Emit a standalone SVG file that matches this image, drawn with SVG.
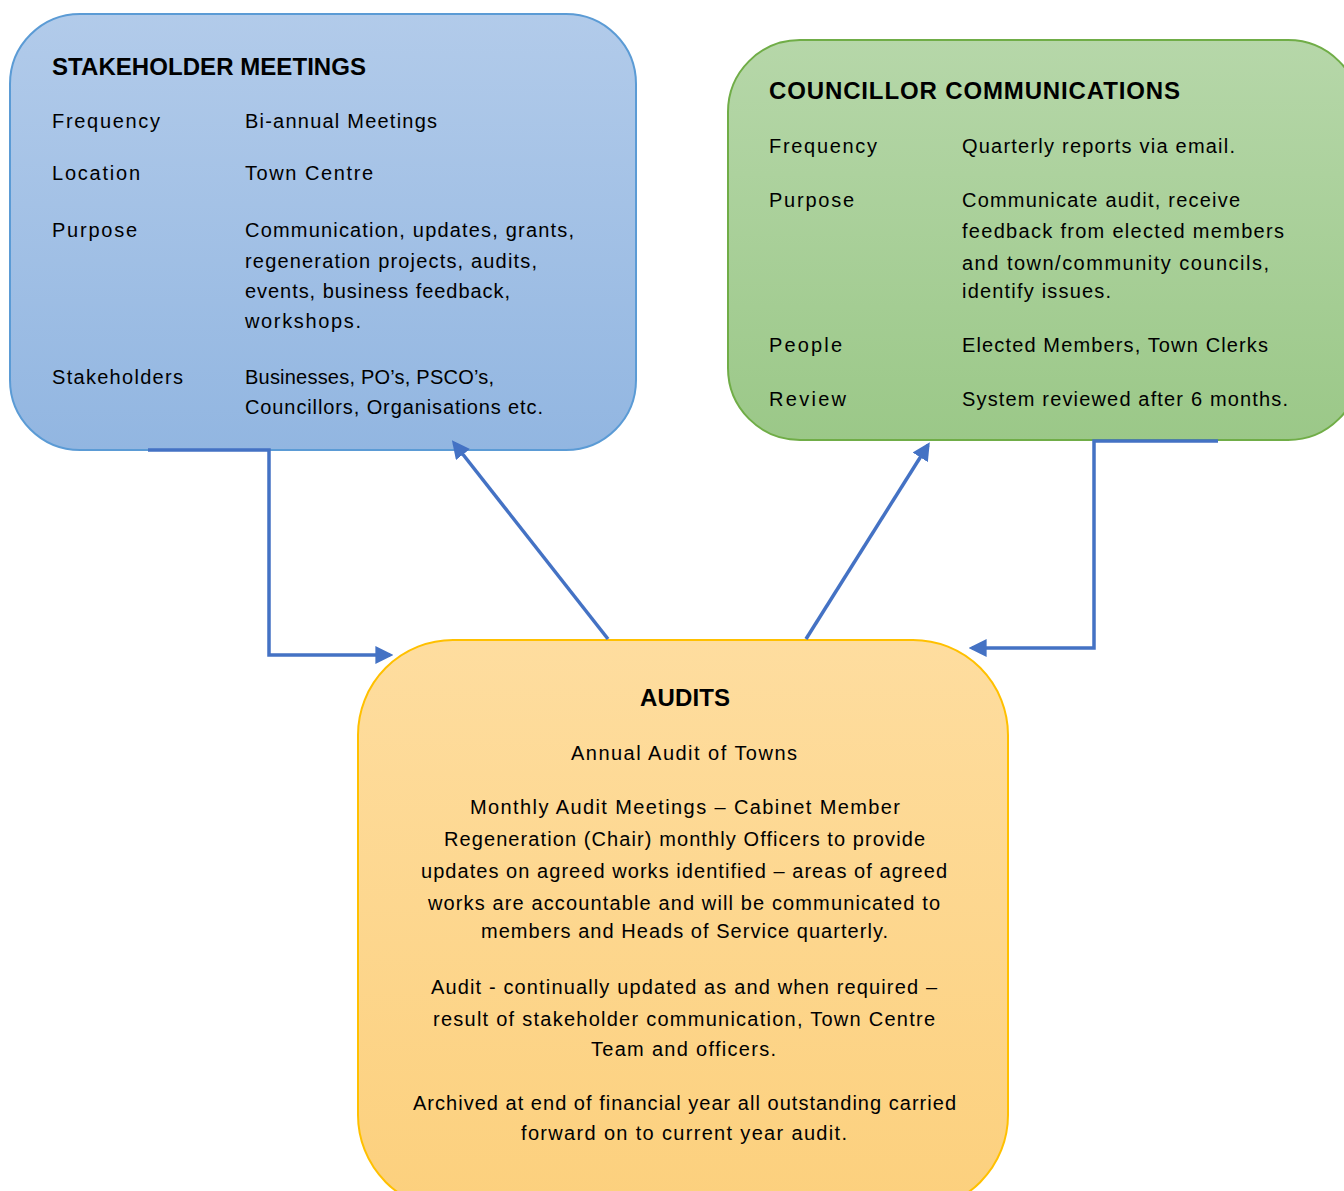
<svg xmlns="http://www.w3.org/2000/svg" width="1344" height="1191" viewBox="0 0 1344 1191">
<style>
.t{font-family:"Liberation Sans",Arial,sans-serif;font-size:20px;fill:#000}
.h{font-family:"Liberation Sans",Arial,sans-serif;font-size:24px;font-weight:bold;fill:#000}
.c{fill:none;stroke:#4472c4;stroke-width:3.5;marker-end:url(#ah)}
</style>
<defs>
<linearGradient id="gb" x1="0" y1="0" x2="0" y2="1"><stop offset="0" stop-color="#b2cbea"/><stop offset="1" stop-color="#92b6e1"/></linearGradient>
<linearGradient id="gg" x1="0" y1="0" x2="0" y2="1"><stop offset="0" stop-color="#b6d7a9"/><stop offset="1" stop-color="#9bc888"/></linearGradient>
<linearGradient id="gy" x1="0" y1="0" x2="0" y2="1"><stop offset="0" stop-color="#fedd9f"/><stop offset="1" stop-color="#fcd07d"/></linearGradient>
<marker id="ah" markerUnits="userSpaceOnUse" markerWidth="18" markerHeight="18" viewBox="0 0 16 16" refX="13" refY="8" orient="auto"><path d="M0,0 L16,8 L0,16 z" fill="#4472c4"/></marker>
</defs>
<g id="stakeholder-meetings">
<rect x="10" y="14" width="626" height="436" rx="70" ry="70" fill="url(#gb)" stroke="#5b9bd5" stroke-width="2"/>
<text class="h" x="52" y="75" textLength="314">STAKEHOLDER MEETINGS</text>
<text class="t" x="52" y="128" textLength="108">Frequency</text>
<text class="t" x="245" y="128" textLength="192">Bi-annual Meetings</text>
<text class="t" x="52" y="180" textLength="88">Location</text>
<text class="t" x="245" y="180" textLength="128">Town Centre</text>
<text class="t" x="52" y="237" textLength="85">Purpose</text>
<text class="t" x="245" y="237" textLength="329">Communication, updates, grants,</text>
<text class="t" x="245" y="268" textLength="292">regeneration projects, audits,</text>
<text class="t" x="245" y="298" textLength="265">events, business feedback,</text>
<text class="t" x="245" y="328" textLength="116">workshops.</text>
<text class="t" x="52" y="384" textLength="131">Stakeholders</text>
<text class="t" x="245" y="384" textLength="249">Businesses, PO’s, PSCO’s,</text>
<text class="t" x="245" y="414" textLength="298">Councillors, Organisations etc.</text>
</g>
<g id="councillor-communications">
<rect x="728" y="40" width="632" height="400" rx="72" ry="72" fill="url(#gg)" stroke="#70ad47" stroke-width="2"/>
<text class="h" x="769" y="99" textLength="411">COUNCILLOR COMMUNICATIONS</text>
<text class="t" x="769" y="153" textLength="108">Frequency</text>
<text class="t" x="962" y="153" textLength="273">Quarterly reports via email.</text>
<text class="t" x="769" y="207" textLength="85">Purpose</text>
<text class="t" x="962" y="207" textLength="278">Communicate audit, receive</text>
<text class="t" x="962" y="238" textLength="322">feedback from elected members</text>
<text class="t" x="962" y="270" textLength="307">and town/community councils,</text>
<text class="t" x="962" y="298" textLength="149">identify issues.</text>
<text class="t" x="769" y="352" textLength="73">People</text>
<text class="t" x="962" y="352" textLength="306">Elected Members, Town Clerks</text>
<text class="t" x="769" y="406" textLength="77">Review</text>
<text class="t" x="962" y="406" textLength="326">System reviewed after 6 months.</text>
</g>
<g id="audits">
<rect x="358" y="640" width="650" height="570" rx="95" ry="95" fill="url(#gy)" stroke="#ffc000" stroke-width="2"/>
<text class="h" x="640" y="706" textLength="90">AUDITS</text>
<text class="t" x="571" y="760" textLength="226">Annual Audit of Towns</text>
<text class="t" x="470" y="814" textLength="430">Monthly Audit Meetings – Cabinet Member</text>
<text class="t" x="444" y="846" textLength="481">Regeneration (Chair) monthly Officers to provide</text>
<text class="t" x="421" y="878" textLength="526">updates on agreed works identified – areas of agreed</text>
<text class="t" x="428" y="910" textLength="512">works are accountable and will be communicated to</text>
<text class="t" x="481" y="938" textLength="407">members and Heads of Service quarterly.</text>
<text class="t" x="431" y="994" textLength="506">Audit - continually updated as and when required –</text>
<text class="t" x="433" y="1026" textLength="502">result of stakeholder communication, Town Centre</text>
<text class="t" x="591" y="1056" textLength="185">Team and officers.</text>
<text class="t" x="413" y="1110" textLength="543">Archived at end of financial year all outstanding carried</text>
<text class="t" x="521" y="1140" textLength="326">forward on to current year audit.</text>
</g>
<g id="connectors">
<polyline class="c" points="148,450 269,450 269,655 390,655"/>
<line class="c" x1="608" y1="639" x2="454" y2="443"/>
<line class="c" x1="806" y1="639" x2="928" y2="445"/>
<polyline class="c" points="1218,441 1094,441 1094,648 972,648"/>
</g>
</svg>
